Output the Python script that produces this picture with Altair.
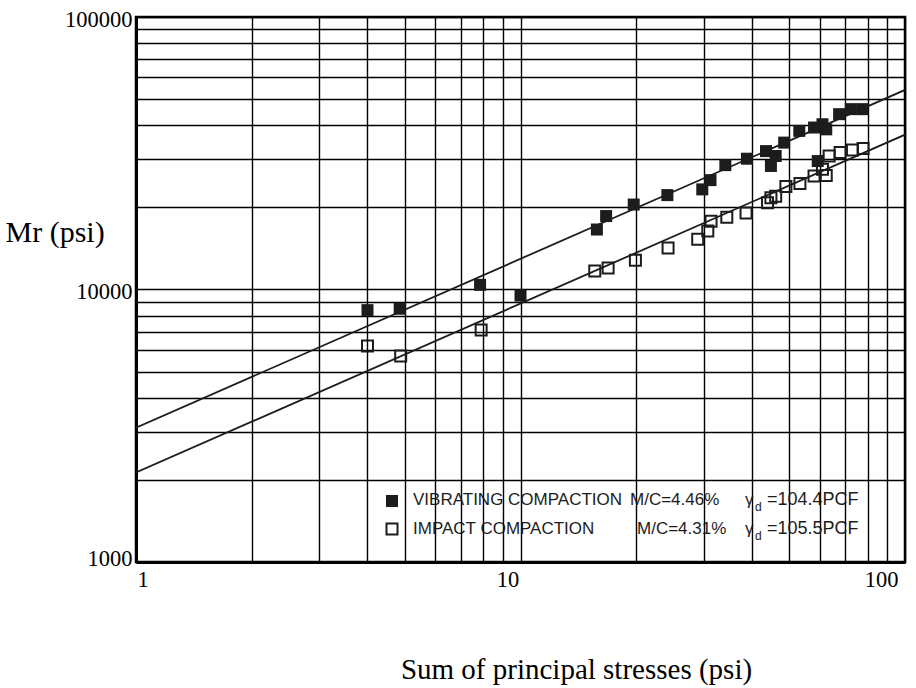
import altair as alt
import pandas as pd

# Vibrating compaction specimens: sum of principal stresses (psi) vs resilient modulus (psi)
vib_x = [4.0, 4.85, 7.85, 10.0, 15.8, 16.7, 19.7, 24.1, 29.7, 31.2, 34.1, 38.8,
         43.5, 44.8, 46.1, 48.5, 53.1, 58.0, 59.3, 61.0, 62.4, 67.4, 72.3, 77.5]
vib_y = [8400, 8500, 10400, 9500, 16600, 18600, 20500, 22200, 23300, 25200, 28600, 30200,
         32200, 28400, 30900, 34600, 38200, 39300, 29600, 40400, 38700, 44000, 45900, 45900]

# Impact compaction specimens
imp_x = [4.0, 4.88, 7.9, 15.6, 16.9, 19.9, 24.2, 28.9, 30.7, 31.3, 34.4, 38.6,
         43.9, 44.8, 46.1, 49.0, 53.3, 58.0, 61.0, 62.4, 63.5, 67.8, 73.0, 77.8]
imp_y = [6200, 5700, 7100, 11700, 12000, 12800, 14200, 15300, 16400, 17800, 18400, 19100,
         20800, 21700, 22000, 23900, 24500, 26100, 27600, 26200, 30900, 31800, 32500, 32900]

# Power-law fit lines, given at the ends of the stress range
fit_x = [1, 100]
vib_fit = [3110, 54000]
imp_fit = [2130, 37000]

# Log-paper grid and labelled decades
x_grid = [1, 2, 3, 4, 5, 6, 7, 8, 9, 10, 20, 30, 40, 50, 60, 70, 80, 90, 100]
y_grid = [1000, 2000, 3000, 4000, 5000, 6000, 7000, 8000, 9000,
          10000, 20000, 30000, 40000, 50000, 60000, 70000, 80000, 90000, 100000]
x_labels = [1, 10, 100]
y_labels = [1000, 10000, 100000]

vib = pd.DataFrame({"stress": vib_x, "mr": vib_y})
imp = pd.DataFrame({"stress": imp_x, "mr": imp_y})
fit = pd.DataFrame({
    "stress": fit_x + fit_x,
    "mr": vib_fit + imp_fit,
    "series": ["vib", "vib", "imp", "imp"],
})

INK = "#1c1c1c"
SERIF = "Liberation Serif"
SANS = "Liberation Sans"


def label_test(values):
    return "indexof([" + ",".join(str(v) for v in values) + "], datum.value) >= 0"


x_axis = alt.Axis(
    values=x_grid,
    labelExpr=label_test(x_labels) + " ? format(datum.value, 'd') : ''",
    labelOverlap=False,
    labelFont=SERIF, labelFontSize=22.5, labelColor="black",
    labelPadding=6,
    labelOffset={"condition": [{"test": "datum.value == 10", "value": -13},
                               {"test": "datum.value == 100", "value": -7}],
                 "value": 1},
    ticks=False,
    grid=True, gridColor="black", gridWidth=1.4, gridOpacity=1,
    domain=True, domainColor="black", domainWidth=3,
    title="Sum of principal stresses (psi)",
    titleFont=SERIF, titleFontSize=29, titleFontWeight="normal", titleColor="black",
    titleX=440, titleY=116, titleAlign="center", titleBaseline="alphabetic",
)

y_axis = alt.Axis(
    values=y_grid,
    labelExpr=label_test(y_labels) + " ? format(datum.value, 'd') : ''",
    labelOverlap=False,
    labelFont=SERIF, labelFontSize=22.5, labelColor="black",
    labelPadding=4,
    labelOffset={"condition": {"test": "datum.value == 1000", "value": -4}, "value": 2},
    ticks=False,
    grid=True, gridColor="black", gridWidth=1.4, gridOpacity=1,
    domain=True, domainColor="black", domainWidth=3,
    title="Mr (psi)",
    titleFont=SERIF, titleFontSize=30, titleFontWeight="normal", titleColor="black",
    titleAngle=0, titleX=-131, titleY=224, titleAlign="left", titleBaseline="alphabetic",
)

x_scale = alt.Scale(type="log", domain=[1, 100], nice=False)
y_scale = alt.Scale(type="log", domain=[1000, 100000], nice=False)

x_enc = alt.X("stress:Q", scale=x_scale, axis=x_axis)
y_enc = alt.Y("mr:Q", scale=y_scale, axis=y_axis)

lines = alt.Chart(fit).mark_line(color=INK, strokeWidth=1.8, clip=True).encode(
    x=x_enc, y=y_enc, detail="series:N"
)

vib_pts = alt.Chart(vib).mark_point(
    shape="square", filled=True, size=144, color=INK, opacity=1
).encode(x=x_enc, y=y_enc)

imp_pts = alt.Chart(imp).mark_point(
    shape="square", filled=False, size=121, color=INK, strokeWidth=2, opacity=1
).encode(x=x_enc, y=y_enc)


def note(text, x, y, size=17, align="left"):
    return alt.Chart(alt.Data(values=[{}])).mark_text(
        text=text, align=align, baseline="alphabetic",
        font=SANS, fontSize=size, color=INK,
    ).encode(x=alt.value(x), y=alt.value(y))


def key(x, y, filled):
    if filled:
        mark = alt.Chart(alt.Data(values=[{}])).mark_point(
            shape="square", filled=True, size=144, color=INK, opacity=1)
    else:
        mark = alt.Chart(alt.Data(values=[{}])).mark_point(
            shape="square", filled=False, size=121, color=INK, strokeWidth=2, opacity=1)
    return mark.encode(x=alt.value(x), y=alt.value(y))


legend = [
    key(256, 484, True),
    note("VIBRATING COMPACTION", 277, 488),
    note("M/C=4.46%", 494, 488),
    note("γ", 609, 488),
    note("d", 619, 494, size=12),
    note("=104.4PCF", 631, 488, size=18),
    key(256, 512, False),
    note("IMPACT COMPACTION", 277, 517),
    note("M/C=4.31%", 501, 517),
    note("γ", 609, 517),
    note("d", 619, 523, size=12),
    note("=105.5PCF", 631, 517, size=18),
]

chart = alt.layer(lines, vib_pts, imp_pts, *legend).properties(
    width=769,
    height=545,
    autosize=alt.AutoSizeParams(type="none"),
    padding={"left": 136, "top": 17, "right": 11, "bottom": 126},
    background="white",
).configure_view(stroke="black", strokeWidth=2.5)

chart.save("out.html", embed_options={"renderer": "svg", "actions": False})
